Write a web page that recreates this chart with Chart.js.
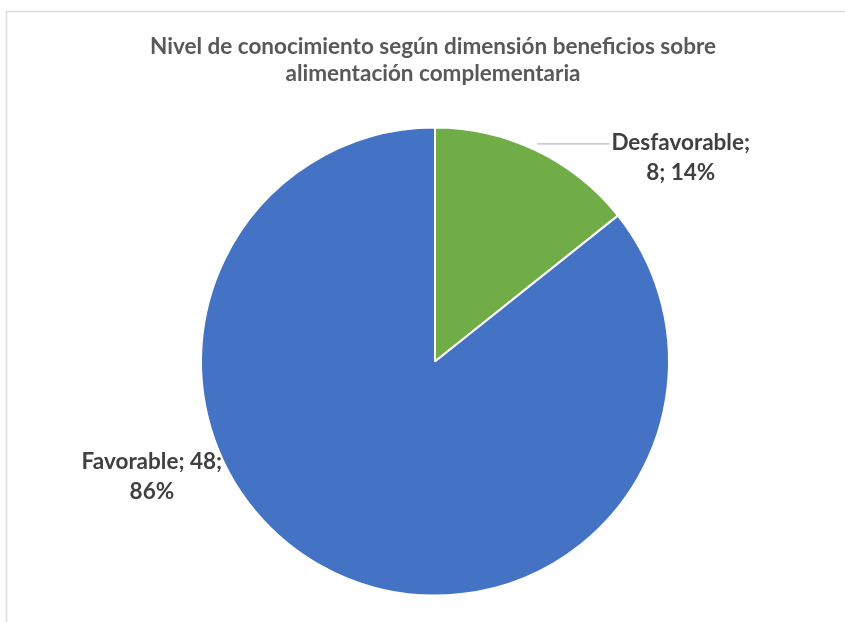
<!DOCTYPE html>
<html>
   <head>
      <title>Nivel de conocimiento</title>
      <meta charset="utf-8">
      <style>
         html, body { margin: 0; padding: 0; background: #fff; }
         .chart-container { width: 845px; height: 622px; position: relative; }
      </style>
   </head>
   <body>
      <div class="chart-container">
         <canvas id="pieChart" width="845" height="622"></canvas>
      </div>

      <script src="https://cdn.jsdelivr.net/npm/chart.js@4/dist/chart.umd.min.js"></script>
      <script>
      const TITLE_LINES = ['Nivel de conocimiento según dimensión beneficios sobre', 'alimentación complementaria'];
      const categories = ['Desfavorable', 'Favorable'];
      const counts = [8, 48];
      const sliceColors = ['#70AD47', '#4472C4'];

      const FONT = 'Lato, "Open Sans", sans-serif';
      const total = counts.reduce((a, b) => a + b, 0);

      // frame of the chart area plus the title
      const framePlugin = {
         id: 'frame',
         beforeDraw(chart) {
            const ctx = chart.ctx;
            ctx.save();
            ctx.strokeStyle = '#dcdcdc';
            ctx.lineWidth = 1.5;
            ctx.beginPath();
            ctx.moveTo(6.5, chart.height);
            ctx.lineTo(6.5, 11.5);
            ctx.lineTo(chart.width, 11.5);
            ctx.stroke();

            ctx.fillStyle = '#595959';
            ctx.font = 'bold 22.5px ' + FONT;
            ctx.textAlign = 'center';
            ctx.textBaseline = 'middle';
            ctx.fillText(TITLE_LINES[0], 433, 47);
            ctx.fillText(TITLE_LINES[1], 433, 74);
            ctx.restore();
         }
      };

      // data labels "name; value; pct" with a leader line for the small slice
      const labelPlugin = {
         id: 'sliceLabels',
         afterDatasetsDraw(chart) {
            const ctx = chart.ctx;
            const arcs = chart.getDatasetMeta(0).data;
            ctx.save();
            ctx.font = 'bold 22.5px ' + FONT;
            ctx.fillStyle = '#404040';
            ctx.textAlign = 'center';
            ctx.textBaseline = 'middle';

            arcs.forEach((arc, i) => {
               const pct = Math.round(counts[i] / total * 100) + '%';
               const r = arc.outerRadius;
               let lines, cx, cy;
               if (i === 0) {
                  lines = [categories[i] + ';', counts[i] + '; ' + pct];
                  cx = arc.x + r * 1.05;
                  cy = arc.y - r * 0.87;
                  // leader line from the slice edge to the label
                  const mid = (arc.startAngle + arc.endAngle) / 2;
                  const sx = arc.x + Math.cos(mid) * (r + 2);
                  const w = ctx.measureText(lines[0]).width;
                  const ly = cy - 14;
                  ctx.strokeStyle = '#a6a6a6';
                  ctx.lineWidth = 1;
                  ctx.beginPath();
                  ctx.moveTo(sx, ly);
                  ctx.lineTo(cx - w / 2 - 2, ly);
                  ctx.stroke();
               } else {
                  lines = [categories[i] + '; ' + counts[i] + ';', pct];
                  cx = arc.x - r * 1.21;
                  cy = arc.y + r * 0.494;
               }
               ctx.fillText(lines[0], cx, cy - 15);
               ctx.fillText(lines[1], cx, cy + 15);
            });
            ctx.restore();
         }
      };

      const chart = new Chart(document.getElementById('pieChart'), {
         type: 'pie',
         data: {
            labels: categories,
            datasets: [{
               data: counts,
               backgroundColor: sliceColors,
               borderColor: '#ffffff',
               borderWidth: 2
            }]
         },
         options: {
            responsive: false,
            animation: false,
            radius: 234,
            layout: { padding: { left: 125, right: 100, top: 121, bottom: 20 } },
            plugins: {
               legend: { display: false },
               title: { display: false },
               tooltip: { enabled: false }
            }
         },
         plugins: [framePlugin, labelPlugin]
      });
      </script>
   </body>
</html>
